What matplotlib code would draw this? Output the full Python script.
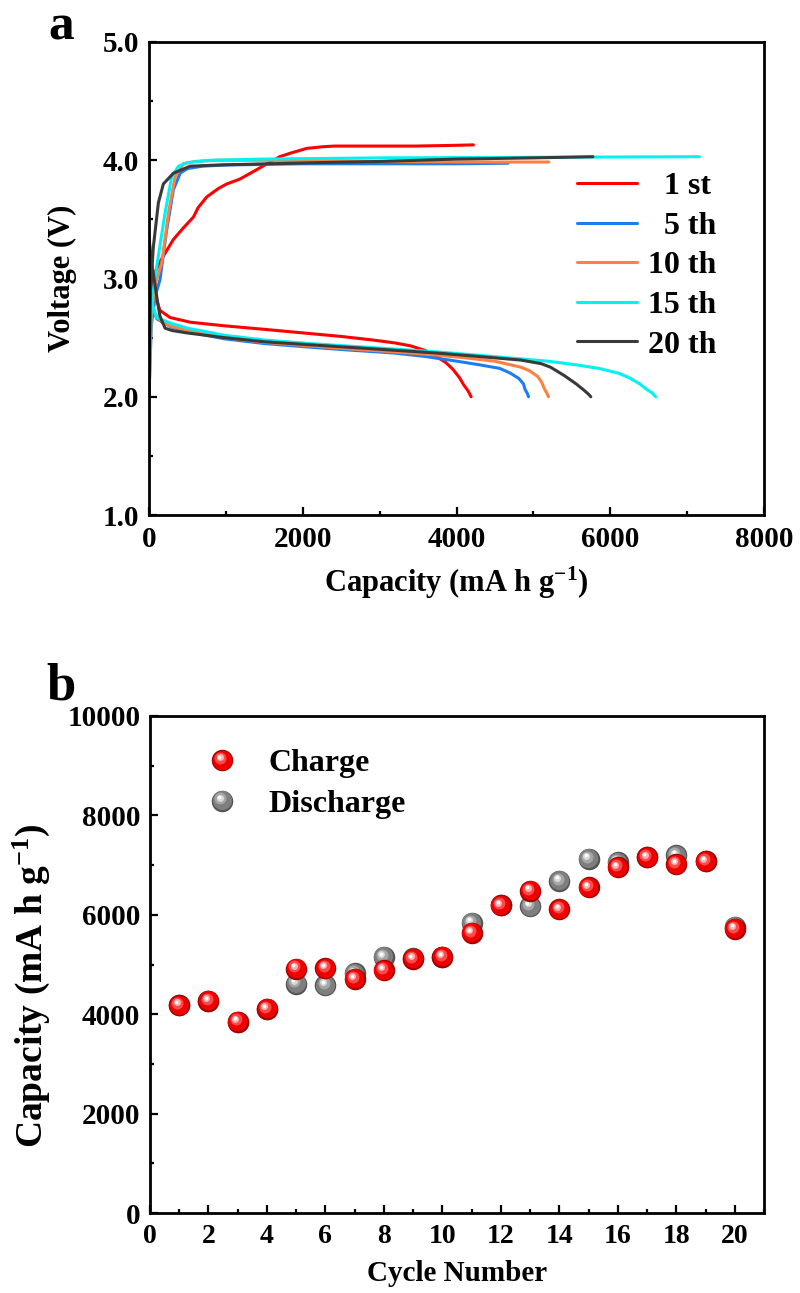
import matplotlib
matplotlib.use("Agg")
import matplotlib.pyplot as plt
import matplotlib.transforms as mtransforms
from matplotlib.legend_handler import HandlerBase
from matplotlib.lines import Line2D
from matplotlib.ticker import MultipleLocator

plt.rcParams['font.family'] = ['Liberation Serif', 'DejaVu Serif']
plt.rcParams['font.weight'] = 'bold'
plt.rcParams['mathtext.fontset'] = 'custom'
plt.rcParams['mathtext.rm'] = 'Liberation Serif:bold'
plt.rcParams['mathtext.bf'] = 'Liberation Serif:bold'
plt.rcParams['mathtext.it'] = 'Liberation Serif:bold'

# ---------------- Panel a data: voltage profiles ----------------
cycle_labels = ["  1 st", "  5 th", "10 th", "15 th", "20 th"]
cycle_colors = ["#ff0000", "#1a7df5", "#ff8040", "#00f2f2", "#3a3a3a"]

dis1_cap = [0, 30, 80, 143, 274, 540, 980, 1500, 2083, 2500, 2910, 3200, 3405, 3600, 3736, 3860, 3956, 4040, 4094, 4150, 4190]
dis1_v = [3.30, 3.05, 2.85, 2.73, 2.67, 2.63, 2.60, 2.57, 2.535, 2.51, 2.48, 2.455, 2.43, 2.39, 2.34, 2.29, 2.23, 2.16, 2.10, 2.05, 2.0]
chg1_cap = [0, 20, 78, 150, 317, 450, 578, 640, 752, 900, 1013, 1180, 1318, 1536, 1700, 1840, 2050, 2271, 2413, 3000, 3460, 3900, 4220]
chg1_v = [2.0, 2.9, 3.05, 3.15, 3.33, 3.43, 3.52, 3.60, 3.69, 3.76, 3.80, 3.84, 3.89, 3.97, 4.03, 4.06, 4.10, 4.115, 4.12, 4.12, 4.12, 4.125, 4.13]

dis5_cap = [0, 20, 50, 100, 200, 292, 500, 980, 1500, 2083, 2600, 3185, 3600, 4011, 4300, 4562, 4700, 4810, 4870, 4893, 4920, 4937]
dis5_v = [3.05, 2.90, 2.75, 2.66, 2.62, 2.59, 2.55, 2.49, 2.45, 2.42, 2.395, 2.37, 2.34, 2.30, 2.27, 2.24, 2.20, 2.155, 2.11, 2.06, 2.03, 2.0]
chg5_cap = [0, 30, 80, 143, 230, 317, 405, 500, 700, 1000, 2000, 3000, 4000, 4672]
chg5_v = [2.0, 2.6, 2.85, 2.99, 3.41, 3.75, 3.89, 3.93, 3.95, 3.96, 3.97, 3.97, 3.97, 3.975]

dis10_cap = [0, 20, 50, 100, 200, 300, 500, 980, 1500, 2083, 2600, 3185, 3700, 4100, 4500, 4838, 4950, 5058, 5110, 5141, 5175, 5196]
dis10_v = [3.05, 2.90, 2.76, 2.67, 2.62, 2.595, 2.56, 2.50, 2.46, 2.43, 2.405, 2.38, 2.355, 2.33, 2.30, 2.25, 2.22, 2.17, 2.12, 2.07, 2.03, 2.0]
chg10_cap = [0, 30, 80, 166, 252, 339, 448, 600, 900, 1500, 3000, 4500, 5200]
chg10_v = [2.0, 2.7, 2.95, 3.13, 3.55, 3.86, 3.97, 3.99, 4.0, 4.0, 3.99, 3.985, 3.985]

dis15_cap = [0, 20, 50, 100, 292, 500, 980, 1500, 2083, 2800, 3736, 4300, 4838, 5200, 5554, 5850, 6105, 6250, 6380, 6480, 6550, 6590]
dis15_v = [3.05, 2.90, 2.76, 2.67, 2.62, 2.58, 2.52, 2.48, 2.45, 2.42, 2.38, 2.35, 2.32, 2.30, 2.27, 2.24, 2.20, 2.16, 2.11, 2.06, 2.03, 2.0]
chg15_cap = [0, 30, 100, 208, 295, 383, 500, 800, 1500, 3000, 5000, 7160]
chg15_v = [2.0, 2.8, 3.1, 3.55, 3.86, 3.95, 3.98, 4.0, 4.01, 4.02, 4.025, 4.03]

dis20_cap = [0, 30, 57, 100, 143, 209, 300, 492, 980, 1500, 2083, 2800, 3736, 4300, 4838, 5100, 5223, 5400, 5554, 5650, 5720, 5747]
dis20_v = [3.35, 3.15, 3.04, 2.85, 2.68, 2.58, 2.56, 2.54, 2.50, 2.465, 2.44, 2.41, 2.37, 2.34, 2.31, 2.28, 2.25, 2.18, 2.11, 2.06, 2.02, 2.0]
chg20_cap = [0, 20, 57, 122, 187, 317, 535, 900, 1532, 2200, 3020, 4000, 5000, 5774]
chg20_v = [2.0, 2.9, 3.27, 3.64, 3.80, 3.89, 3.95, 3.96, 3.97, 3.98, 3.99, 4.01, 4.02, 4.03]

discharge_caps = [dis1_cap, dis5_cap, dis10_cap, dis15_cap, dis20_cap]
discharge_vs = [dis1_v, dis5_v, dis10_v, dis15_v, dis20_v]
charge_caps = [chg1_cap, chg5_cap, chg10_cap, chg15_cap, chg20_cap]
charge_vs = [chg1_v, chg5_v, chg10_v, chg15_v, chg20_v]

# ---------------- Panel b data: cycling ----------------
cycles = list(range(1, 21))
charge_capacity = [4181, 4268, 3852, 4107, 4919, 4926, 4711, 4886, 5114, 5154,
                   5637, 6188, 6483, 6107, 6550, 6953, 7154, 7020, 7074, 5718]
discharge_capacity = [4181, 4268, 3852, 4107, 4617, 4584, 4819, 5154, 5130, 5154,
                      5839, 6188, 6174, 6684, 7127, 7060, 7154, 7194, 7074, 5758]

fig = plt.figure(figsize=(8, 12.93), dpi=100)

# ================= Panel a =================
axa = fig.add_axes([149/800, 1-515/1293, 615/800, 473/1293])
for dc, dv, cc, cv, col, lab in zip(discharge_caps, discharge_vs, charge_caps, charge_vs,
                                    cycle_colors, cycle_labels):
    axa.plot(dc, dv, color=col, lw=2.2, solid_capstyle='round', label=lab)
    axa.plot(cc, cv, color=col, lw=2.2, solid_capstyle='round')

axa.set_xlim(0, 8000)
axa.set_ylim(1.0, 5.0)
axa.xaxis.set_major_locator(MultipleLocator(2000))
axa.xaxis.set_minor_locator(MultipleLocator(1000))
axa.yaxis.set_major_locator(MultipleLocator(1.0))
axa.yaxis.set_minor_locator(MultipleLocator(0.5))
axa.set_yticklabels([f"{v:.1f}" for v in axa.get_yticks()])
axa.set_xlabel("Capacity (mA h g$^{-1}$)", fontsize=22, fontweight='bold')
axa.set_ylabel("Voltage (V)", fontsize=22, fontweight='bold')
axa.xaxis.label.set_va('center')
axa.xaxis.set_label_coords(0.5, -0.144)
axa.yaxis.label.set_va('center')
axa.yaxis.set_label_coords(-0.1415, 0.5)

leg_a = axa.legend(loc='upper left', bbox_to_anchor=(0.696, 0.7255), frameon=False,
                   fontsize=23, borderpad=0, borderaxespad=0, handlelength=1.87,
                   handletextpad=0.35, labelspacing=0.32)
for t in leg_a.get_texts():
    t.set_fontweight('bold')

# ================= Panel b =================
axb = fig.add_axes([150/800, 1-1213/1293, 614/800, 497/1293])

red_cols = ['#a80000', '#ee0000', '#ff4a4a', '#ffb4b4', '#ffffff']
gray_cols = ['#555555', '#7e7e7e', '#a6a6a6', '#dadada', '#ffffff']
layers = [(0.0, 0.0, 15.5), (-0.3, 0.3, 13.8), (-1.3, 1.5, 8.6), (-1.8, 2.1, 5.0), (-2.0, 2.4, 2.6)]


def draw_spheres(ax, x, y, cols, z):
    for (dx, dy, ms), col in zip(layers, cols):
        t = ax.transData + mtransforms.ScaledTranslation(dx/72, dy/72, fig.dpi_scale_trans)
        ax.plot(x, y, 'o', ms=ms, color=col, mec='none', transform=t, zorder=z)


draw_spheres(axb, cycles, discharge_capacity, gray_cols, 3)
draw_spheres(axb, cycles, charge_capacity, red_cols, 4)


class Sphere:
    def __init__(self, cols):
        self.cols = cols


class SphereHandler(HandlerBase):
    def create_artists(self, legend, orig_handle, xdescent, ydescent, width, height,
                       fontsize, trans):
        cx = width/2 - xdescent
        cy = height/2 - ydescent
        arts = []
        for (dx, dy, ms), col in zip(layers, orig_handle.cols):
            l = Line2D([cx+dx], [cy+dy], marker='o', ms=ms, color=col, mec='none',
                       linestyle='none')
            l.set_transform(trans)
            arts.append(l)
        return arts


leg_b = axb.legend([Sphere(red_cols), Sphere(gray_cols)], ["Charge", "Discharge"],
                   handler_map={Sphere: SphereHandler()}, loc='upper left',
                   bbox_to_anchor=(0.081, 0.934), frameon=False, fontsize=23,
                   borderpad=0, borderaxespad=0, handlelength=1.4, handletextpad=0.75,
                   labelspacing=0.35)
for t in leg_b.get_texts():
    t.set_fontweight('bold')

axb.set_xlim(0, 21)
axb.set_ylim(0, 10000)
axb.xaxis.set_major_locator(MultipleLocator(2))
axb.xaxis.set_minor_locator(MultipleLocator(1))
axb.yaxis.set_major_locator(MultipleLocator(2000))
axb.yaxis.set_minor_locator(MultipleLocator(1000))
axb.set_xlabel("Cycle Number", fontsize=21, fontweight='bold')
axb.set_ylabel("Capacity (mA h g$^{-1}$)", fontsize=27, fontweight='bold')
axb.xaxis.label.set_va('center')
axb.xaxis.set_label_coords(0.5, -0.121)
axb.yaxis.label.set_va('center')
axb.yaxis.set_label_coords(-0.194, 0.457)

for ax, xs in ((axa, 21), (axb, 20)):
    for s in ax.spines.values():
        s.set_linewidth(2.0)
    ax.tick_params(which='both', direction='in', top=False, right=False, width=1.6)
    ax.tick_params(which='major', length=6)
    ax.tick_params(which='minor', length=3)
    ax.tick_params(axis='y', labelsize=21, pad=7)
    ax.tick_params(axis='x', labelsize=xs, pad=8)
    for lbl in ax.get_xticklabels() + ax.get_yticklabels():
        lbl.set_fontweight('bold')

fig.text(48/800, 1-40/1293, "a", fontsize=37, fontweight='bold', ha='left', va='baseline')
fig.text(46/800, 1-700/1293, "b", fontsize=38, fontweight='bold', ha='left', va='baseline')

fig.savefig("out.png", dpi=100)
